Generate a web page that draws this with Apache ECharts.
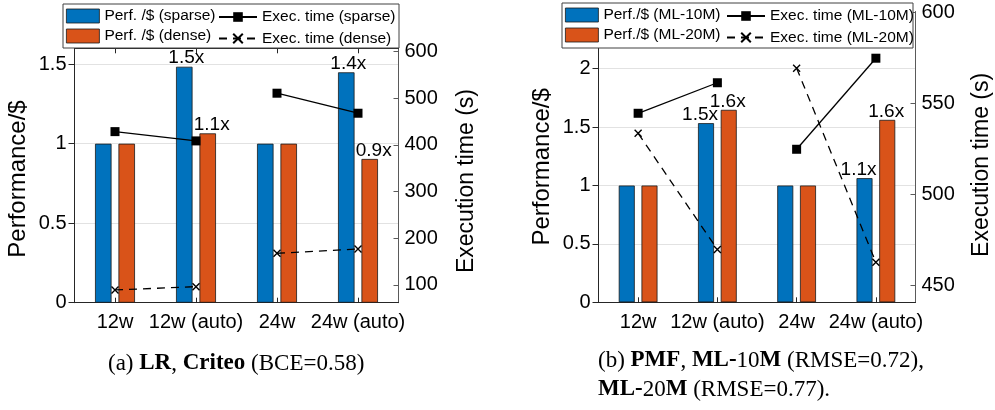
<!DOCTYPE html>
<html>
<head>
<meta charset="utf-8">
<script src="https://cdn.jsdelivr.net/npm/echarts@6/dist/echarts.min.js"></script>
<style>
html, body { margin: 0; padding: 0; background: #fff; }
#chart { width: 995px; height: 410px; }
</style>
</head>
<body>
<div id="chart"></div>
<script>
// Worker configurations on the x axis
const categories = ['12w', '12w (auto)', '24w', '24w (auto)'];

// (a) LR on Criteo
const lrPerfSparse = [1.0, 1.484, 1.0, 1.449];
const lrPerfDense = [1.0, 1.065, 1.0, 0.904];
const lrTimeSparse = [428.5, 408.6, 510.8, 467.9];
const lrTimeDense = [89.3, 96.4, 167.9, 177.1];
const lrPerfTicks = [0, 0.5, 1, 1.5];
const lrTimeTicks = [100, 200, 300, 400, 500, 600];

// (b) PMF on ML-10M / ML-20M
const pmfPerf10M = [1.0, 1.534, 1.0, 1.063];
const pmfPerf20M = [1.0, 1.648, 1.0, 1.562];
const pmfTime10M = [544.5, 561.3, 524.7, 574.8];
const pmfTime20M = [533.5, 469.6, 569.3, 462.5];
const pmfPerfTicks = [0, 0.5, 1, 1.5, 2];
const pmfTimeTicks = [450, 500, 550, 600];

const BLUE = '#0072BD';
const ORANGE = '#D95319';
const INK = '#262626';
const SANS = '"Liberation Sans", Arial, Helvetica, sans-serif';
const SERIF = '"Liberation Serif", "Times New Roman", serif';
const CROSS = 'path://M0,0L10,10M10,0L0,10';

// speed-up label above every non-baseline bar
function ratioLabel(dx) {
  return {
    show: true, position: 'top', distance: -1, offset: [dx, 0],
    fontFamily: SANS, fontSize: 19, color: '#000',
    formatter: p => (p.value === 1 ? '' : p.value.toFixed(1) + 'x')
  };
}

function barSeries(name, values, color, xi, yi, width, dx) {
  return {
    type: 'bar', name, data: values, xAxisIndex: xi, yAxisIndex: yi,
    barWidth: width, barGap: '42%',
    itemStyle: { color, borderColor: '#1a1a1a', borderWidth: 0.8 },
    label: ratioLabel(dx), z: 2
  };
}

// execution time is joined only within each worker count (12w pair, 24w pair)
function splitPairs(values) {
  return [
    [values[0], values[1], '-', '-'],
    ['-', '-', values[2], values[3]]
  ];
}

function timeSeries(name, values, dashed, xi, yi) {
  return splitPairs(values).map(d => ({
    type: 'line', name, data: d, xAxisIndex: xi, yAxisIndex: yi,
    symbol: dashed ? CROSS : 'rect',
    symbolSize: dashed ? 7 : 9,
    showAllSymbol: true,
    lineStyle: { color: '#000', width: 1.3, type: dashed ? [8, 6] : 'solid' },
    itemStyle: { color: '#000', borderColor: '#000', borderWidth: dashed ? 1.4 : 0 },
    z: 3
  }));
}

function xAxisBase(gridIndex, position) {
  return {
    gridIndex, type: 'category', data: categories, position,
    axisLine: { show: true, lineStyle: { color: INK, width: 1 } },
    axisTick: { show: true, inside: true, alignWithLabel: true, length: 5, lineStyle: { color: INK } },
    axisLabel: { show: position === 'bottom', interval: 0, fontFamily: SANS, fontSize: 20, color: '#000', margin: 10 },
    splitLine: { show: false }
  };
}

function leftAxis(gridIndex, max, ticks, nameShift) {
  return {
    gridIndex, type: 'value', position: 'left', min: 0, max, interval: 0.5,
    axisLine: { show: true, lineStyle: { color: INK, width: 1 } },
    axisTick: { show: true, inside: false, length: 6, customValues: ticks, lineStyle: { color: INK } },
    axisLabel: { customValues: ticks, fontFamily: SANS, fontSize: 20, color: '#000', margin: 8 },
    splitLine: { show: true, lineStyle: { color: '#e2e2e2', width: 1 } },
    name: 'Performance/$', nameLocation: 'middle', nameGap: 44, nameRotate: 90,
    nameTextStyle: { fontFamily: SANS, fontSize: 24, color: '#000', padding: [0, nameShift * 2, 0, 0] }
  };
}

function rightAxis(gridIndex, min, max, ticks, gap, nameShift) {
  return {
    gridIndex, type: 'value', position: 'right', min, max,
    axisLine: { show: true, lineStyle: { color: '#5a5a5a', width: 1 } },
    axisTick: { show: true, inside: true, length: 5, customValues: ticks, lineStyle: { color: '#5a5a5a' } },
    axisLabel: { customValues: ticks, fontFamily: SANS, fontSize: 20, color: '#000', margin: 6 },
    splitLine: { show: false },
    name: 'Execution time (s)', nameLocation: 'middle', nameGap: gap, nameRotate: 90,
    nameTextStyle: { fontFamily: SANS, fontSize: 23, color: '#000', padding: [0, nameShift * 2, 0, 0] }
  };
}

function barLegend(names, left, top) {
  return {
    data: names, orient: 'vertical', left, top, padding: 0,
    icon: 'rect', itemWidth: 33, itemHeight: 14, itemGap: 4, selectedMode: false,
    itemStyle: { borderColor: '#1a1a1a', borderWidth: 0.8 },
    textStyle: { fontFamily: SANS, fontSize: 15.5, color: '#000', lineHeight: 14 }
  };
}

function lineLegend(names, left, top) {
  return {
    data: names, orient: 'vertical', left, top, padding: 0,
    itemWidth: 38, itemHeight: 12, itemGap: 5.5, selectedMode: false,
    textStyle: { fontFamily: SANS, fontSize: 15.5, color: '#000', lineHeight: 14 }
  };
}

const chart = echarts.init(document.getElementById('chart'), null, { renderer: 'canvas' });

chart.setOption({
  animation: false,
  backgroundColor: '#fff',
  grid: [
    { left: 74.5, top: 48.3, width: 324, height: 254.4 },
    { left: 598.5, top: 11.5, width: 317, height: 290.8 }
  ],
  xAxis: [
    xAxisBase(0, 'bottom'),
    xAxisBase(0, 'top'),
    xAxisBase(1, 'bottom')
  ],
  yAxis: [
    leftAxis(0, 1.6, lrPerfTicks, 3.5),
    rightAxis(0, 62, 607, lrTimeTicks, 57, 5.5),
    leftAxis(1, 2.49, pmfPerfTicks, 10),
    rightAxis(1, 440.5, 600.5, pmfTimeTicks, 55, 8)
  ],
  legend: [
    barLegend(['Perf. /$ (sparse)', 'Perf. /$ (dense)'], 66, 8),
    lineLegend(['Exec. time (sparse)', 'Exec. time (dense)'], 218, 9),
    barLegend(['Perf./$ (ML-10M)', 'Perf./$ (ML-20M)'], 565, 7),
    lineLegend(['Exec. time (ML-10M)', 'Exec. time (ML-20M)'], 726, 8)
  ],
  graphic: [
    { type: 'rect', z: 3, shape: { x: 63, y: 4, width: 336, height: 44 },
      style: { fill: '#fff', stroke: '#404040', lineWidth: 1 } },
    { type: 'rect', z: 3, shape: { x: 562, y: 3, width: 351, height: 45 },
      style: { fill: '#fff', stroke: '#404040', lineWidth: 1 } },
    { type: 'text', left: 108, top: 352, z: 5,
      style: {
        text: '{n|(a) }{b|LR}{n|, }{b|Criteo}{n| (BCE=0.58)}',
        rich: {
          n: { fontFamily: SERIF, fontSize: 23, fill: '#000' },
          b: { fontFamily: SERIF, fontSize: 23, fontWeight: 'bold', fill: '#000' }
        }
      } },
    { type: 'text', left: 598, top: 349, z: 5,
      style: {
        text: '{n|(b) }{b|PMF}{n|, }{b|ML-}{n|10}{b|M}{n| (RMSE=0.72),}\n{b|ML-}{n|20}{b|M}{n| (RMSE=0.77).}',
        rich: {
          n: { fontFamily: SERIF, fontSize: 23, lineHeight: 29, fill: '#000' },
          b: { fontFamily: SERIF, fontSize: 23, lineHeight: 29, fontWeight: 'bold', fill: '#000' }
        }
      } }
  ],
  series: [
    barSeries('Perf. /$ (sparse)', lrPerfSparse, BLUE, 0, 0, 16.5, 2),
    barSeries('Perf. /$ (dense)', lrPerfDense, ORANGE, 0, 0, 16.5, 4),
    ...timeSeries('Exec. time (sparse)', lrTimeSparse, false, 0, 1),
    ...timeSeries('Exec. time (dense)', lrTimeDense, true, 0, 1),
    barSeries('Perf./$ (ML-10M)', pmfPerf10M, BLUE, 2, 2, 16, -6),
    barSeries('Perf./$ (ML-20M)', pmfPerf20M, ORANGE, 2, 2, 16, -1),
    ...timeSeries('Exec. time (ML-10M)', pmfTime10M, false, 2, 3),
    ...timeSeries('Exec. time (ML-20M)', pmfTime20M, true, 2, 3)
  ]
});
</script>
</body>
</html>
